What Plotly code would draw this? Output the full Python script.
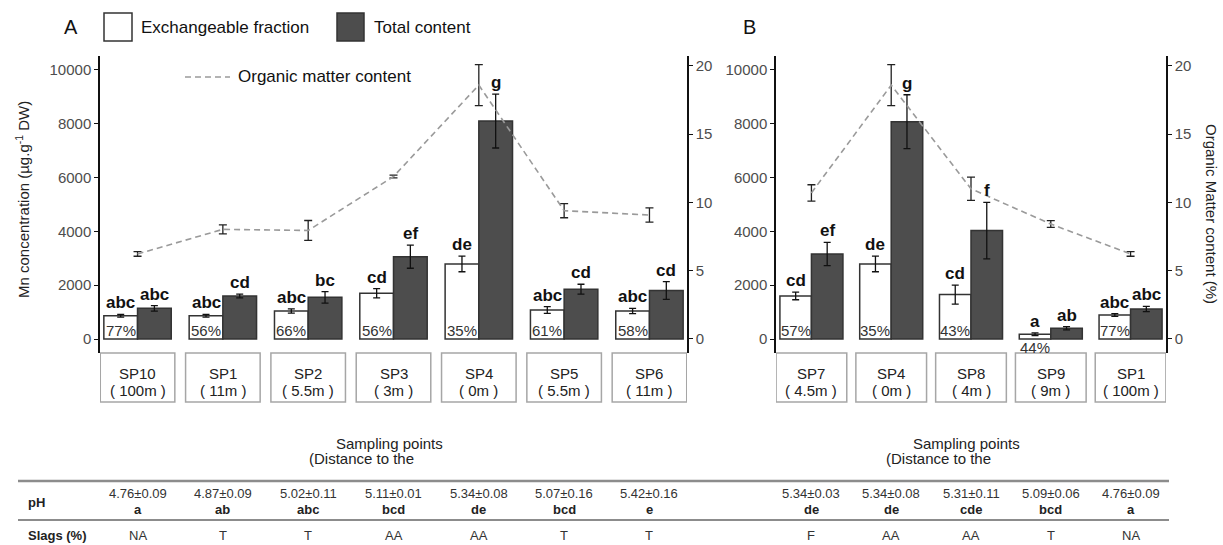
import plotly.graph_objects as go

# ---------------- data ----------------
catsA = ["SP10", "SP1", "SP2", "SP3", "SP4", "SP5", "SP6"]
distA = ["100m", "11m", "5.5m", "3m", "0m", "5.5m", "11m"]
exchA = [866, 866, 1040, 1700, 2790, 1080, 1040]
exchA_err = [50, 50, 80, 170, 290, 125, 100]
totA = [1140, 1600, 1550, 3060, 8100, 1850, 1800]
totA_err = [100, 70, 215, 430, 1000, 185, 330]
omA = [6.23, 8.03, 7.95, 11.9, 18.6, 9.4, 9.08]
omA_err = [0.17, 0.33, 0.73, 0.1, 1.5, 0.52, 0.52]
letExA = ["abc", "abc", "abc", "cd", "de", "abc", "abc"]
letTotA = ["abc", "cd", "bc", "ef", "g", "cd", "cd"]
pctA = ["77%", "56%", "66%", "56%", "35%", "61%", "58%"]
pHA = [4.76, 4.87, 5.02, 5.11, 5.34, 5.07, 5.42]
pHA_sd = [0.09, 0.09, 0.11, 0.01, 0.08, 0.16, 0.16]
pHletA = ["a", "ab", "abc", "bcd", "de", "bcd", "e"]
slagA = ["NA", "T", "T", "AA", "AA", "T", "T"]

catsB = ["SP7", "SP4", "SP8", "SP9", "SP1"]
distB = ["4.5m", "0m", "4m", "9m", "100m"]
exchB = [1600, 2790, 1650, 175, 890]
exchB_err = [140, 290, 350, 50, 50]
totB = [3160, 8080, 4030, 400, 1115]
totB_err = [430, 1000, 1050, 60, 100]
omB = [10.7, 18.6, 11.0, 8.42, 6.23]
omB_err = [0.6, 1.5, 0.85, 0.25, 0.17]
letExB = ["cd", "de", "cd", "a", "abc"]
letTotB = ["ef", "g", "f", "ab", "abc"]
pctB = ["57%", "35%", "43%", "44%", "77%"]
pHB = [5.34, 5.34, 5.31, 5.09, 4.76]
pHB_sd = [0.03, 0.08, 0.11, 0.06, 0.09]
pHletB = ["de", "de", "cde", "bcd", "a"]
slagB = ["F", "AA", "AA", "T", "NA"]

# ---------------- layout helpers ----------------
W, H = 1223, 545
FONT = "Liberation Sans, Arial, sans-serif"
WHITE_FILL = "#ffffff"
DARK_FILL = "#4d4d4d"
OUTLINE = "#333333"
TICKCOL = "#4d4d4d"


def px(x):
    return x / W


def py(y):
    return 1 - y / H


def ann(x, y, text, size, color="#222", xref="paper", yref="paper", xanchor="center",
        yanchor="middle", **kw):
    d = dict(x=x, y=y, xref=xref, yref=yref, text=text, showarrow=False, xanchor=xanchor,
             yanchor=yanchor, font=dict(size=size, color=color, family=FONT))
    d.update(kw)
    return d


fig = go.Figure()
annotations = []
shapes = []

panels = [
    dict(cats=catsA, dist=distA, exch=exchA, exch_err=exchA_err, tot=totA, tot_err=totA_err,
         om=omA, om_err=omA_err, letEx=letExA, letTot=letTotA, pct=pctA, pH=pHA, pH_sd=pHA_sd,
         pHlet=pHletA, slag=slagA, xa="x", ya="y", ya2="y2", bw=0.395, boxhw=0.437, pad=0.44),
    dict(cats=catsB, dist=distB, exch=exchB, exch_err=exchB_err, tot=totB, tot_err=totB_err,
         om=omB, om_err=omB_err, letEx=letExB, letTot=letTotB, pct=pctB, pH=pHB, pH_sd=pHB_sd,
         pHlet=pHletB, slag=slagB, xa="x2", ya="y3", ya2="y4", bw=0.395, boxhw=0.443, pad=0.444),
]

for k, p in enumerate(panels):
    n = len(p["cats"])
    xs = list(range(n))
    bw = p["bw"]
    fig.add_trace(go.Bar(
        x=xs, y=p["exch"], width=bw, offset=-bw, xaxis=p["xa"], yaxis=p["ya"],
        marker=dict(color=WHITE_FILL, line=dict(color=OUTLINE, width=1.5)),
        error_y=dict(type="data", array=p["exch_err"], color="#111", thickness=1.3, width=3.5),
        showlegend=False, name="Exchangeable fraction"))
    fig.add_trace(go.Bar(
        x=xs, y=p["tot"], width=bw, offset=0, xaxis=p["xa"], yaxis=p["ya"],
        marker=dict(color=DARK_FILL, line=dict(color=OUTLINE, width=1.5)),
        error_y=dict(type="data", array=p["tot_err"], color="#111", thickness=1.3, width=3.5),
        showlegend=False, name="Total content"))
    fig.add_trace(go.Scatter(
        x=xs, y=p["om"], mode="lines", xaxis=p["xa"], yaxis=p["ya2"],
        line=dict(color="#9a9a9a", width=1.6, dash="6px,4px"),
        error_y=dict(type="data", array=p["om_err"], color="#222", thickness=1.3, width=4),
        showlegend=False, name="Organic matter content"))

    xref = p["xa"]
    yref = p["ya"]
    for i in range(n):
        # significance letters
        annotations.append(ann(i - bw / 2, p["exch"][i] + p["exch_err"][i], "<b>%s</b>" % p["letEx"][i],
                               17, "#111", xref=xref, yref=yref, yanchor="bottom", yshift=0))
        annotations.append(ann(i + bw / 2, p["tot"][i] + p["tot_err"][i], "<b>%s</b>" % p["letTot"][i],
                               17, "#111", xref=xref, yref=yref, yanchor="bottom", yshift=0))
        # percentage labels
        ylab = 300 if p["exch"][i] > 500 else -330
        annotations.append(ann(i - bw / 2, ylab, p["pct"][i], 15, "#333", xref=xref, yref=yref))
        # category boxes
        shapes.append(dict(type="rect", xref=xref, yref="paper", x0=i - p["boxhw"], x1=i + p["boxhw"],
                           y0=py(402), y1=py(353), line=dict(color="#a6a6a6", width=1.5)))
        annotations.append(ann(i, py(373), p["cats"][i], 15, "#222", xref=xref))
        annotations.append(ann(i, py(390), "( %s )" % p["dist"][i], 15, "#222", xref=xref))
        # table values
        annotations.append(ann(i, py(493), "%.2f±%.2f" % (p["pH"][i], p["pH_sd"][i]), 13, "#333",
                               xref=xref))
        annotations.append(ann(i, py(509), "<b>%s</b>" % p["pHlet"][i], 13, "#222", xref=xref))
        annotations.append(ann(i, py(535), p["slag"][i], 13, "#333", xref=xref))

# axis formatting
dom_y = [py(353), py(56)]
yleft = dict(range=[-520, 10520], tickvals=[0, 2000, 4000, 6000, 8000, 10000], tickformat="d",
             showgrid=False, zeroline=False, showline=True, linecolor="#111", linewidth=1.5,
             ticks="outside", ticklen=4, tickcolor="#111",
             tickfont=dict(size=15, color=TICKCOL, family=FONT), domain=dom_y)
yright = dict(range=[-1.026, 20.73], tickvals=[0, 5, 10, 15, 20], showgrid=False, zeroline=False,
              showline=True, linecolor="#111", linewidth=1.5, ticks="outside", ticklen=4,
              tickcolor="#111", tickfont=dict(size=15, color=TICKCOL, family=FONT), side="right")
xcommon = dict(showgrid=False, zeroline=False, showline=False, showticklabels=False, ticks="")
pA, pB = panels[0]["pad"], panels[1]["pad"]

fig.update_layout(
    width=W, height=H, margin=dict(l=0, r=0, t=0, b=0),
    paper_bgcolor="white", plot_bgcolor="white", barmode="overlay",
    font=dict(family=FONT),
    xaxis=dict(domain=[px(100), px(687)], range=[-pA, len(catsA) - 1 + pA], **xcommon),
    xaxis2=dict(domain=[px(776), px(1166)], range=[-pB, len(catsB) - 1 + pB], **xcommon),
    yaxis=dict(anchor="x", **yleft),
    yaxis2=dict(anchor="x", overlaying="y", **yright),
    yaxis3=dict(anchor="x2", **yleft),
    yaxis4=dict(anchor="x2", overlaying="y3", **yright),
)

# legend (drawn manually)
shapes.append(dict(type="rect", xref="paper", yref="paper", x0=px(104), x1=px(132), y0=py(41), y1=py(13),
                   fillcolor=WHITE_FILL, line=dict(color=OUTLINE, width=1.5)))
shapes.append(dict(type="rect", xref="paper", yref="paper", x0=px(337), x1=px(364), y0=py(41), y1=py(13),
                   fillcolor=DARK_FILL, line=dict(color=OUTLINE, width=1.5)))
shapes.append(dict(type="line", xref="paper", yref="paper", x0=px(185), x1=px(230), y0=py(77), y1=py(77),
                   line=dict(color="#9a9a9a", width=1.6, dash="6px,4px")))
annotations += [
    ann(px(71), py(27), "A", 20, "#111"),
    ann(px(749), py(27), "B", 20, "#111"),
    ann(px(139), py(27), "Exchangeable fraction", 17, "#111", xanchor="left"),
    ann(px(372), py(27), "Total content", 17, "#111", xanchor="left"),
    ann(px(236), py(76), "Organic matter content", 17, "#111", xanchor="left"),
    ann(px(22), py(200), "Mn concentration (µg.g<sup>-1</sup> DW)", 15, "#222", textangle=-90),
    ann(px(1212), py(214), "Organic Matter content (%)", 15, "#222", textangle=90),
    ann(px(389), py(443), "Sampling points", 15, "#222"),
    ann(px(361), py(458), "(Distance to the", 15, "#222"),
    ann(px(966), py(443), "Sampling points", 15, "#222"),
    ann(px(938), py(458), "(Distance to the", 15, "#222"),
    ann(px(26), py(502), "<b>pH</b>", 13, "#222", xanchor="left"),
    ann(px(26), py(535), "<b>Slags (%)</b>", 13, "#222", xanchor="left"),
]
# table rules
shapes.append(dict(type="line", xref="paper", yref="paper", x0=px(18), x1=px(1169), y0=py(481), y1=py(481),
                   line=dict(color="#8c8c8c", width=2.5)))
shapes.append(dict(type="line", xref="paper", yref="paper", x0=px(18), x1=px(1169), y0=py(520), y1=py(520),
                   line=dict(color="#8c8c8c", width=2)))

fig.update_layout(annotations=annotations, shapes=shapes)
fig.write_html("out.html", config={"displayModeBar": False},
               post_script="document.body.style.margin='0';")
